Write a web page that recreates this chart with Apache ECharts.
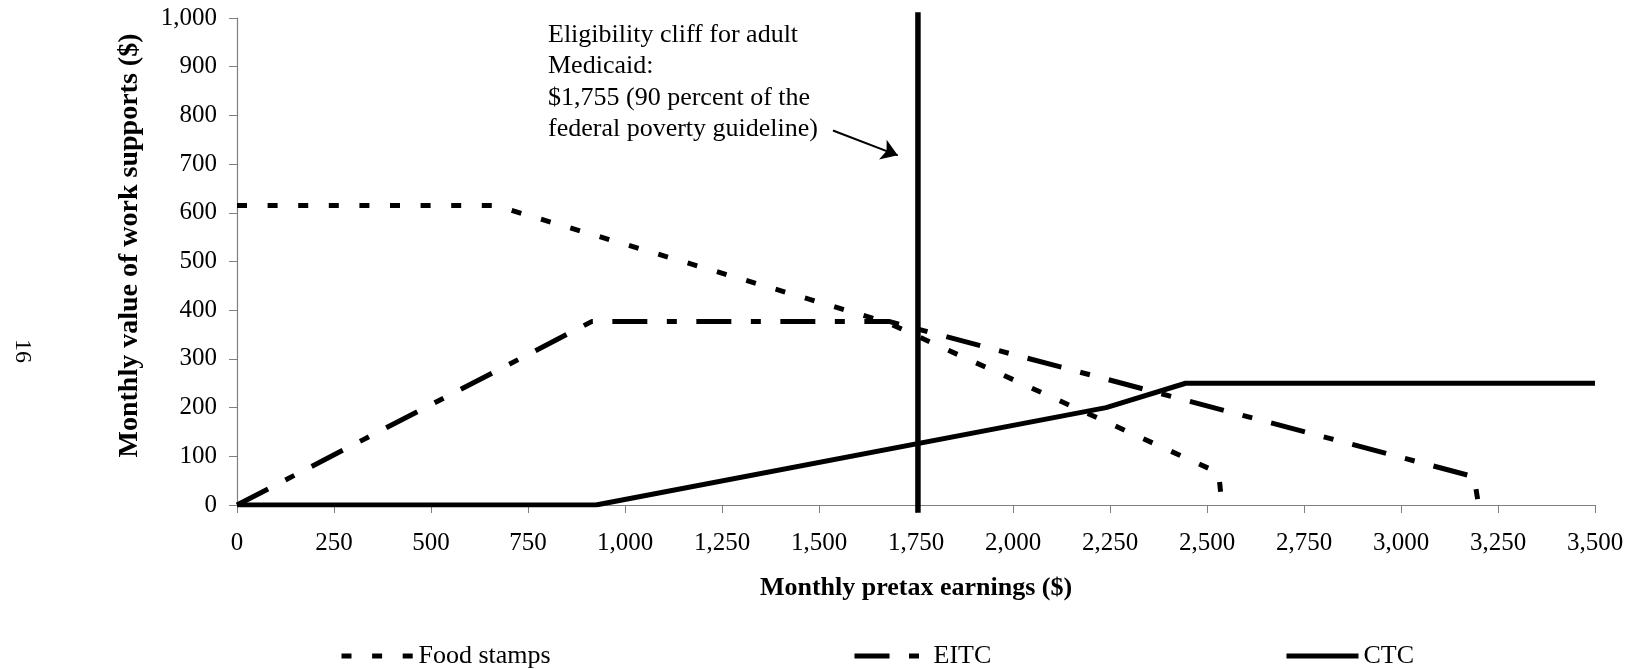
<!DOCTYPE html>
<html>
<head>
<meta charset="utf-8">
<script src="https://cdn.jsdelivr.net/npm/echarts@6/dist/echarts.min.js"></script>
<style>
  html, body { margin: 0; padding: 0; background: #fff; }
  #chart { width: 1633px; height: 669px; }
</style>
</head>
<body>
<div id="chart"></div>
<script>
// values, monthly $ : [earnings, benefit]
const foodStamps = [[0, 615], [665, 615], [1675, 375], [2530, 66], [2535, 27]];
const eitc = [[0, 0], [915, 377], [1680, 377], [3188, 58], [3200, 0]];
const ctc = [[0, 0], [925, 0], [2240, 200], [2445, 250], [3500, 250]];
// Medicaid cliff, drawn slightly past both ends of the y axis like the original
const medicaidLine = [[1755, -16], [1755, 1012]];
const arrowFrom = [1536, 769];
const arrowTo = [1703, 718];

const noteLines = [
  'Eligibility cliff for adult',
  'Medicaid:',
  '$1,755 (90 percent of the',
  'federal poverty guideline)'
];
const pageNumber = '16';

const serif = '"Liberation Serif", "Times New Roman", serif';
const fmt = v => v.toLocaleString('en-US');

var chart = echarts.init(document.getElementById('chart'));

function legendFor(name, left, width) {
  return {
    data: [name],
    left: left,
    top: 638,
    itemWidth: width,
    itemHeight: 14,
    textStyle: { fontFamily: serif, fontSize: 26, color: '#000' },
    itemStyle: { opacity: 0 },
    lineStyle: { width: 5 }
  };
}

chart.setOption({
  animation: false,
  grid: { left: 237, right: 38, top: 18, bottom: 164 },
  legend: [
    legendFor('Food stamps', 334, 72),
    legendFor('EITC', 847, 74),
    legendFor('CTC', 1279, 72)
  ],
  xAxis: {
    type: 'value',
    min: 0,
    max: 3500,
    interval: 250,
    name: 'Monthly pretax earnings ($)',
    nameLocation: 'middle',
    nameGap: 70,
    nameTextStyle: { fontFamily: serif, fontSize: 26, fontWeight: 'bold', color: '#000' },
    axisLine: { lineStyle: { color: '#808080', width: 1.2 } },
    axisTick: { length: 8, lineStyle: { color: '#808080' } },
    axisLabel: { margin: 26, fontFamily: serif, fontSize: 25, color: '#000', formatter: fmt },
    splitLine: { show: false }
  },
  yAxis: {
    type: 'value',
    min: 0,
    max: 1000,
    interval: 100,
    name: 'Monthly value of work supports ($)',
    nameLocation: 'middle',
    nameGap: 93,
    nameTextStyle: { fontFamily: serif, fontSize: 28, fontWeight: 'bold', color: '#000', padding: [0, 0, 0, 32] },
    axisLine: { show: true, lineStyle: { color: '#808080', width: 1.2 } },
    axisTick: { show: true, length: 8, lineStyle: { color: '#808080' } },
    axisLabel: { margin: 20, fontFamily: serif, fontSize: 25, color: '#000', formatter: fmt },
    splitLine: { show: false }
  },
  graphic: [
    {
      type: 'text',
      left: 548,
      top: 19,
      style: {
        text: noteLines.join('\n'),
        font: '26px ' + serif,
        lineHeight: 31.5,
        fill: '#000'
      }
    },
    {
      type: 'text',
      x: 22,
      y: 351,
      rotation: -Math.PI / 2,
      style: {
        text: pageNumber,
        font: '24px ' + serif,
        fill: '#000',
        textAlign: 'center',
        textVerticalAlign: 'middle'
      }
    }
  ],
  series: [
    {
      name: 'Food stamps',
      type: 'line',
      data: foodStamps,
      symbol: 'none',
      color: '#000',
      lineStyle: { color: '#000', width: 5, type: [10, 20.6] }
    },
    {
      name: 'EITC',
      type: 'line',
      data: eitc,
      symbol: 'none',
      color: '#000',
      lineStyle: { color: '#000', width: 5, type: [35, 19.5, 10, 19.5] }
    },
    {
      name: 'CTC',
      type: 'line',
      data: ctc,
      symbol: 'none',
      color: '#000',
      lineStyle: { color: '#000', width: 5 }
    },
    {
      name: 'Medicaid cliff',
      type: 'line',
      data: medicaidLine,
      symbol: 'none',
      clip: false,
      color: '#000',
      lineStyle: { color: '#000', width: 5.5 },
      markLine: {
        silent: true,
        symbol: ['none', 'arrow'],
        symbolSize: 16,
        label: { show: false },
        lineStyle: { color: '#000', width: 2, type: 'solid' },
        data: [[{ coord: arrowFrom }, { coord: arrowTo }]]
      }
    }
  ]
});
</script>
</body>
</html>
